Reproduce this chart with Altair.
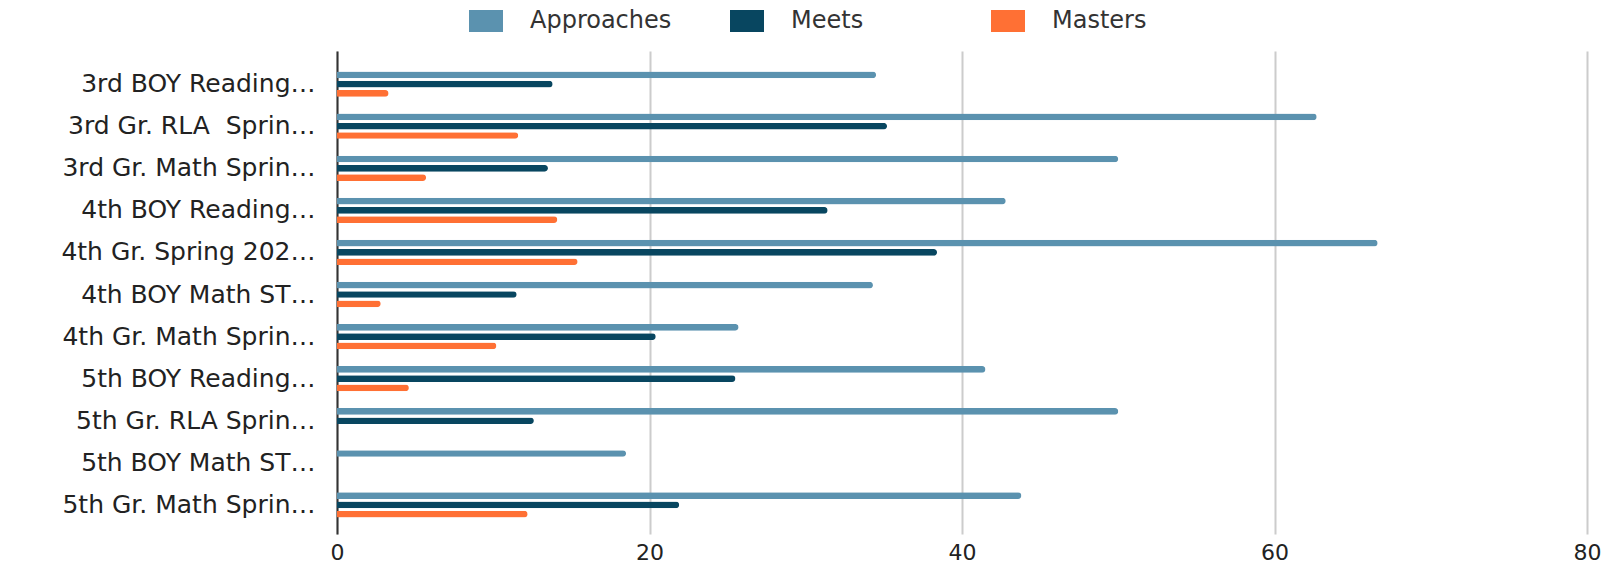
import altair as alt
import pandas as pd

labels = [
    "3rd BOY Reading…",
    "3rd Gr. RLA\u00a0 Sprin…",
    "3rd Gr. Math Sprin…",
    "4th BOY Reading…",
    "4th Gr. Spring 202…",
    "4th BOY Math ST…",
    "4th Gr. Math Sprin…",
    "5th BOY Reading…",
    "5th Gr. RLA Sprin…",
    "5th BOY Math ST…",
    "5th Gr. Math Sprin…",
]
series = ["Approaches", "Meets", "Masters"]
colors = ["#5B92AF", "#084660", "#FF7034"]

approaches = [34.5, 62.7, 50.0, 42.8, 66.6, 34.3, 25.7, 41.5, 50.0, 18.5, 43.8]
meets = [13.8, 35.2, 13.5, 31.4, 38.4, 11.5, 20.4, 25.5, 12.6, 0, 21.9]
masters = [3.3, 11.6, 5.7, 14.1, 15.4, 2.8, 10.2, 4.6, 0, 0, 12.2]

x_ticks = [0, 20, 40, 60, 80]

rows = []
for name, vals in zip(series, [approaches, meets, masters]):
    for lab, v in zip(labels, vals):
        rows.append({"label": lab, "series": name, "value": v})
df = pd.DataFrame(rows)

FONT = "DejaVu Sans"

chart = (
    alt.Chart(df)
    .mark_bar(cornerRadiusEnd=3.3)
    .encode(
        x=alt.X(
            "value:Q",
            scale=alt.Scale(domain=[0, 80], nice=False, zero=True),
            axis=alt.Axis(
                values=x_ticks,
                grid=True,
                gridColor="#cccccc",
                gridWidth=2,
                domain=False,
                ticks=False,
                labelFlush=False,
                labelFontSize=22,
                labelFont=FONT,
                labelColor="#222222",
                labelPadding=8,
                title=None,
            ),
        ),
        y=alt.Y(
            "label:N",
            sort=labels,
            scale=alt.Scale(paddingInner=0, paddingOuter=0.24, align=0.6),
            axis=alt.Axis(
                title=None,
                domain=True,
                domainColor="#333333",
                domainWidth=2,
                ticks=False,
                grid=False,
                labelFontSize=25,
                labelFont=FONT,
                labelColor="#222222",
                labelPadding=22,
                labelLimit=400,
            ),
        ),
        yOffset=alt.YOffset(
            "series:N",
            sort=series,
            scale=alt.Scale(paddingInner=0.28, paddingOuter=0.902),
        ),
        color=alt.Color(
            "series:N",
            sort=series,
            scale=alt.Scale(domain=series, range=colors),
            legend=alt.Legend(
                title=None,
                orient="none",
                legendX=132,
                legendY=-47,
                direction="horizontal",
                symbolType="M-1,-0.65H1V0.65H-1Z",
                symbolSize=1156,
                symbolStrokeWidth=0,
                symbolOpacity=1,
                labelFontSize=24,
                labelFont=FONT,
                labelColor="#333333",
                labelOffset=27,
                columnPadding=58,
                gridAlign="all",
                labelLimit=400,
            ),
        ),
    )
    .properties(
        width=1250,
        height=483,
        autosize=alt.AutoSizeParams(type="none"),
        padding={"left": 337, "top": 51, "right": 23, "bottom": 33},
    )
    .configure_view(stroke=None)
)

chart.save("out.html", embed_options={"renderer": "svg", "actions": False})
